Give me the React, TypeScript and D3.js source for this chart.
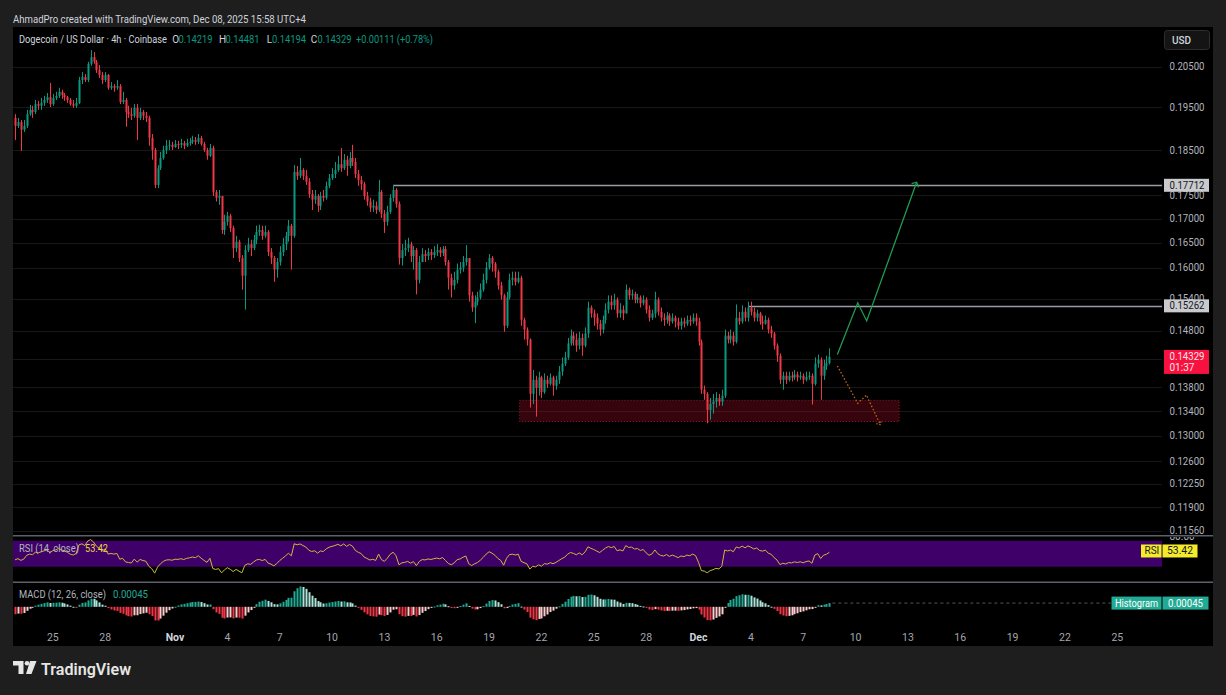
import { useEffect, useRef } from "react";
import * as d3 from "d3";

// closes of the bars before the first visible one (only used to warm up RSI / MACD)
const leadCloses = [
  0.2050, 0.2080, 0.2030, 0.1990, 0.2010, 0.2040,
  0.2020, 0.1990, 0.1960, 0.1940, 0.1950, 0.1920,
  0.1880, 0.1850, 0.1820, 0.1790, 0.1830, 0.1860,
  0.1880, 0.1900, 0.1890, 0.1910, 0.1920, 0.1900,
  0.1910, 0.1930, 0.1950, 0.1940, 0.1960, 0.1980,
  0.2000, 0.2010, 0.2030, 0.2000, 0.1990, 0.2020,
  0.2040, 0.2010, 0.1980, 0.2000, 0.1970, 0.1950,
  0.1930, 0.1910, 0.1940, 0.1920, 0.1925,
];

// 4h bars, first one Oct 22 20:00
const closes = [
  0.1906, 0.1915, 0.1897, 0.1906, 0.1934, 0.1944, 0.1939, 0.1958, 0.1954, 0.1961,
  0.1968, 0.1975, 0.1958, 0.1973, 0.1978, 0.1988, 0.1980, 0.1975, 0.1968, 0.1958,
  0.1954, 0.1961, 0.2017, 0.2025, 0.2017, 0.2058, 0.2075, 0.2063, 0.2042, 0.2030,
  0.2017, 0.2030, 0.1998, 0.2002, 0.1998, 0.2002, 0.1963, 0.1968, 0.1939, 0.1934,
  0.1930, 0.1949, 0.1925, 0.1939, 0.1930, 0.1925, 0.1878, 0.1850, 0.1772, 0.1809,
  0.1832, 0.1850, 0.1860, 0.1862, 0.1857, 0.1864, 0.1862, 0.1866, 0.1860, 0.1866,
  0.1869, 0.1873, 0.1869, 0.1878, 0.1864, 0.1850, 0.1837, 0.1855, 0.1757, 0.1744,
  0.1748, 0.1676, 0.1693, 0.1706, 0.1680, 0.1639, 0.1652, 0.1619, 0.1584, 0.1635,
  0.1647, 0.1639, 0.1656, 0.1672, 0.1676, 0.1664, 0.1672, 0.1631, 0.1619, 0.1596,
  0.1611, 0.1631, 0.1647, 0.1664, 0.1685, 0.1664, 0.1801, 0.1792, 0.1805, 0.1792,
  0.1779, 0.1752, 0.1740, 0.1748, 0.1727, 0.1748, 0.1744, 0.1770, 0.1787, 0.1796,
  0.1805, 0.1818, 0.1809, 0.1828, 0.1814, 0.1832, 0.1823, 0.1796, 0.1783, 0.1774,
  0.1748, 0.1736, 0.1723, 0.1727, 0.1718, 0.1757, 0.1710, 0.1693, 0.1714, 0.1744,
  0.1761, 0.1731, 0.1619, 0.1635, 0.1639, 0.1647, 0.1623, 0.1635, 0.1576, 0.1611,
  0.1627, 0.1623, 0.1631, 0.1625, 0.1631, 0.1635, 0.1629, 0.1637, 0.1611, 0.1580,
  0.1565, 0.1576, 0.1596, 0.1600, 0.1611, 0.1619, 0.1546, 0.1523, 0.1534, 0.1542,
  0.1557, 0.1576, 0.1600, 0.1619, 0.1608, 0.1592, 0.1565, 0.1546, 0.1489, 0.1542,
  0.1576, 0.1580, 0.1572, 0.1580, 0.1500, 0.1482, 0.1464, 0.1369, 0.1393, 0.1379,
  0.1397, 0.1372, 0.1393, 0.1386, 0.1397, 0.1383, 0.1393, 0.1407, 0.1421, 0.1432,
  0.1457, 0.1471, 0.1464, 0.1453, 0.1467, 0.1453, 0.1475, 0.1523, 0.1512, 0.1504,
  0.1493, 0.1482, 0.1500, 0.1519, 0.1534, 0.1527, 0.1538, 0.1512, 0.1519, 0.1512,
  0.1557, 0.1546, 0.1549, 0.1538, 0.1542, 0.1531, 0.1538, 0.1519, 0.1504, 0.1512,
  0.1538, 0.1515, 0.1504, 0.1500, 0.1508, 0.1497, 0.1504, 0.1497, 0.1489, 0.1497,
  0.1493, 0.1500, 0.1497, 0.1504, 0.1497, 0.1460, 0.1376, 0.1369, 0.1342, 0.1352,
  0.1356, 0.1362, 0.1356, 0.1366, 0.1471, 0.1464, 0.1471, 0.1460, 0.1504, 0.1497,
  0.1515, 0.1504, 0.1523, 0.1515, 0.1504, 0.1512, 0.1497, 0.1493, 0.1500, 0.1482,
  0.1475, 0.1453, 0.1435, 0.1393, 0.1400, 0.1393, 0.1400, 0.1397, 0.1402, 0.1397,
  0.1400, 0.1393, 0.1398, 0.1400, 0.1386, 0.1421, 0.1428, 0.1400, 0.1417, 0.14219,
  0.14329,
];

const highs = [
  0.1934, 0.1925, 0.1920, 0.1920, 0.1944, 0.1956, 0.1954, 0.1968, 0.1966, 0.1973,
  0.1978, 0.1985, 0.2010, 0.1983, 0.1988, 0.1998, 0.1993, 0.1985, 0.1978, 0.1973,
  0.1968, 0.1973, 0.2025, 0.2037, 0.2032, 0.2063, 0.2093, 0.2088, 0.2068, 0.2055,
  0.2037, 0.2037, 0.2032, 0.2012, 0.2007, 0.2017, 0.2007, 0.1988, 0.1973, 0.1954,
  0.1949, 0.1958, 0.1958, 0.1949, 0.1944, 0.1939, 0.1930, 0.1887, 0.1855, 0.1816,
  0.1846, 0.1860, 0.1873, 0.1873, 0.1869, 0.1873, 0.1871, 0.1876, 0.1871, 0.1876,
  0.1878, 0.1883, 0.1880, 0.1887, 0.1883, 0.1869, 0.1855, 0.1864, 0.1860, 0.1761,
  0.1761, 0.1748, 0.1708, 0.1714, 0.1710, 0.1685, 0.1664, 0.1656, 0.1625, 0.1645,
  0.1660, 0.1656, 0.1666, 0.1685, 0.1687, 0.1685, 0.1685, 0.1676, 0.1639, 0.1623,
  0.1619, 0.1643, 0.1660, 0.1672, 0.1697, 0.1689, 0.1816, 0.1814, 0.1832, 0.1809,
  0.1805, 0.1787, 0.1761, 0.1761, 0.1752, 0.1757, 0.1761, 0.1779, 0.1796, 0.1809,
  0.1823, 0.1837, 0.1855, 0.1841, 0.1837, 0.1846, 0.1862, 0.1832, 0.1805, 0.1792,
  0.1779, 0.1757, 0.1744, 0.1740, 0.1736, 0.1783, 0.1761, 0.1718, 0.1727, 0.1752,
  0.1772, 0.1765, 0.1736, 0.1647, 0.1656, 0.1660, 0.1652, 0.1643, 0.1639, 0.1623,
  0.1639, 0.1635, 0.1639, 0.1637, 0.1643, 0.1647, 0.1641, 0.1643, 0.1643, 0.1615,
  0.1588, 0.1592, 0.1608, 0.1611, 0.1623, 0.1645, 0.1619, 0.1553, 0.1546, 0.1553,
  0.1569, 0.1588, 0.1611, 0.1627, 0.1623, 0.1611, 0.1596, 0.1572, 0.1549, 0.1553,
  0.1588, 0.1592, 0.1592, 0.1592, 0.1584, 0.1504, 0.1486, 0.1466, 0.1410, 0.1400,
  0.1407, 0.1400, 0.1404, 0.1400, 0.1404, 0.1400, 0.1400, 0.1417, 0.1432, 0.1442,
  0.1467, 0.1482, 0.1478, 0.1475, 0.1478, 0.1475, 0.1486, 0.1534, 0.1527, 0.1519,
  0.1512, 0.1500, 0.1508, 0.1531, 0.1546, 0.1546, 0.1549, 0.1542, 0.1531, 0.1527,
  0.1567, 0.1561, 0.1557, 0.1553, 0.1549, 0.1546, 0.1546, 0.1542, 0.1527, 0.1519,
  0.1553, 0.1542, 0.1523, 0.1512, 0.1515, 0.1512, 0.1512, 0.1508, 0.1504, 0.1504,
  0.1504, 0.1508, 0.1508, 0.1512, 0.1512, 0.1504, 0.1464, 0.1383, 0.1372, 0.1362,
  0.1369, 0.1372, 0.1369, 0.1376, 0.1482, 0.1478, 0.1482, 0.1478, 0.1529, 0.1515,
  0.1527, 0.1523, 0.1534, 0.1534, 0.1523, 0.1519, 0.1515, 0.1508, 0.1508, 0.1504,
  0.1489, 0.1478, 0.1457, 0.1439, 0.1407, 0.1407, 0.1407, 0.1407, 0.1410, 0.1407,
  0.1407, 0.1404, 0.1407, 0.1407, 0.1404, 0.1432, 0.1437, 0.1432, 0.1428, 0.1435,
  0.14481,
];

const lows = [
  0.1873, 0.1901, 0.1848, 0.1892, 0.1901, 0.1930, 0.1925, 0.1934, 0.1944, 0.1944,
  0.1954, 0.1961, 0.1951, 0.1954, 0.1968, 0.1973, 0.1971, 0.1966, 0.1961, 0.1954,
  0.1949, 0.1949, 0.1958, 0.2007, 0.2012, 0.2012, 0.2053, 0.2058, 0.2035, 0.2022,
  0.2007, 0.2012, 0.1993, 0.1993, 0.1988, 0.1993, 0.1958, 0.1958, 0.1904, 0.1925,
  0.1920, 0.1925, 0.1873, 0.1920, 0.1920, 0.1915, 0.1860, 0.1828, 0.1765, 0.1765,
  0.1805, 0.1828, 0.1841, 0.1850, 0.1850, 0.1855, 0.1852, 0.1855, 0.1852, 0.1857,
  0.1860, 0.1864, 0.1862, 0.1864, 0.1860, 0.1846, 0.1828, 0.1834, 0.1748, 0.1736,
  0.1729, 0.1668, 0.1666, 0.1685, 0.1672, 0.1619, 0.1631, 0.1611, 0.1557, 0.1519,
  0.1631, 0.1623, 0.1635, 0.1647, 0.1664, 0.1656, 0.1660, 0.1623, 0.1607, 0.1572,
  0.1580, 0.1604, 0.1623, 0.1635, 0.1652, 0.1596, 0.1660, 0.1783, 0.1787, 0.1783,
  0.1772, 0.1744, 0.1718, 0.1731, 0.1714, 0.1718, 0.1736, 0.1740, 0.1765, 0.1783,
  0.1787, 0.1801, 0.1801, 0.1805, 0.1792, 0.1809, 0.1814, 0.1787, 0.1770, 0.1761,
  0.1740, 0.1727, 0.1714, 0.1714, 0.1710, 0.1714, 0.1701, 0.1670, 0.1685, 0.1710,
  0.1736, 0.1723, 0.1606, 0.1604, 0.1623, 0.1631, 0.1611, 0.1596, 0.1548, 0.1569,
  0.1611, 0.1611, 0.1615, 0.1615, 0.1619, 0.1623, 0.1621, 0.1623, 0.1604, 0.1557,
  0.1542, 0.1557, 0.1569, 0.1588, 0.1592, 0.1604, 0.1534, 0.1515, 0.1494, 0.1527,
  0.1538, 0.1553, 0.1569, 0.1596, 0.1592, 0.1580, 0.1557, 0.1538, 0.1478, 0.1485,
  0.1538, 0.1565, 0.1565, 0.1569, 0.1489, 0.1464, 0.1453, 0.1346, 0.1352, 0.1331,
  0.1366, 0.1362, 0.1369, 0.1379, 0.1383, 0.1366, 0.1376, 0.1386, 0.1400, 0.1417,
  0.1428, 0.1453, 0.1453, 0.1442, 0.1446, 0.1435, 0.1450, 0.1467, 0.1504, 0.1489,
  0.1482, 0.1471, 0.1475, 0.1493, 0.1512, 0.1519, 0.1519, 0.1504, 0.1504, 0.1500,
  0.1512, 0.1538, 0.1538, 0.1531, 0.1531, 0.1523, 0.1527, 0.1512, 0.1497, 0.1500,
  0.1504, 0.1508, 0.1497, 0.1489, 0.1493, 0.1489, 0.1493, 0.1486, 0.1482, 0.1482,
  0.1486, 0.1489, 0.1489, 0.1493, 0.1489, 0.1453, 0.1369, 0.1359, 0.1320, 0.1326,
  0.1336, 0.1346, 0.1349, 0.1349, 0.1362, 0.1457, 0.1457, 0.1453, 0.1457, 0.1491,
  0.1493, 0.1497, 0.1497, 0.1508, 0.1497, 0.1497, 0.1491, 0.1482, 0.1491, 0.1475,
  0.1467, 0.1446, 0.1424, 0.1386, 0.1376, 0.1386, 0.1390, 0.1390, 0.1393, 0.1390,
  0.1393, 0.1386, 0.1390, 0.1393, 0.1351, 0.1383, 0.1414, 0.1359, 0.1393, 0.1410,
  0.14194,
];

const priceTicks = [0.205, 0.195, 0.185, 0.175, 0.17, 0.165, 0.16, 0.154, 0.148, 0.143, 0.138, 0.134, 0.13, 0.126, 0.1225, 0.119, 0.1156];

// [month (0-based), day, label]
const dateTicks: [number, number, string][] = [
  [9, 25, "25"], [9, 28, "28"], [10, 1, "Nov"], [10, 4, "4"], [10, 7, "7"], [10, 10, "10"],
  [10, 13, "13"], [10, 16, "16"], [10, 19, "19"], [10, 22, "22"], [10, 25, "25"], [10, 28, "28"],
  [11, 1, "Dec"], [11, 4, "4"], [11, 7, "7"], [11, 10, "10"], [11, 13, "13"], [11, 16, "16"],
  [11, 19, "19"], [11, 22, "22"], [11, 25, "25"],
];

// horizontal levels: price, index of the bar where the line starts
const levels = [
  { price: 0.17712, bar: 130 },
  { price: 0.15262, bar: 252 },
];

const zoneTop = 0.1358;
const zoneBottom = 0.1323;
const zoneStart = Date.UTC(2025, 10, 20, 18);
const zoneEnd = Date.UTC(2025, 11, 12, 12);

const bullPath: [number, number][] = [
  [Date.UTC(2025, 11, 8, 23), 0.1437],
  [Date.UTC(2025, 11, 10, 3), 0.1532],
  [Date.UTC(2025, 11, 10, 15, 20), 0.1498],
  [Date.UTC(2025, 11, 13, 12), 0.1778],
];
const bearPath: [number, number][] = [
  [Date.UTC(2025, 11, 8, 23), 0.1417],
  [Date.UTC(2025, 11, 10, 3), 0.1353],
  [Date.UTC(2025, 11, 10, 15), 0.1367],
  [Date.UTC(2025, 11, 11, 10), 0.1318],
];

const lastPrice = "0.14329";
const countdown = "01:37";
const rsiValue = 53.42;
const histValue = "0.00045";

const firstBar = Date.UTC(2025, 9, 22, 20);
const barMs = 4 * 3600 * 1000;

export default function App() {
  const ref = useRef<SVGSVGElement>(null);

  useEffect(() => {
    const svg = d3.select(ref.current);
    svg.selectAll("*").remove();
    const font = "Roboto, 'Noto Sans', sans-serif";
    const up = "#089981";
    const down = "#f23645";

    // text helper, optional fixed width to match the screenshot's font metrics
    const txt = (g: any, tx: number, ty: number, s: string, fill: string, size = 10, len?: number) => {
      const t = g.append("text").attr("x", tx).attr("y", ty)
        .attr("font-family", font).attr("font-size", size).attr("fill", fill).text(s);
      if (len) t.attr("textLength", len).attr("lengthAdjust", "spacingAndGlyphs");
      return t;
    };

    svg.append("rect").attr("width", 1226).attr("height", 695).attr("fill", "#1e1e1e");
    svg.append("rect").attr("x", 13).attr("y", 27).attr("width", 1200).attr("height", 619).attr("fill", "#000");

    const x = d3.scaleUtc()
      .domain([new Date(Date.UTC(2025, 9, 22, 17, 11)), new Date(Date.UTC(2025, 11, 27, 13, 29))])
      .range([13, 1162]);
    const y = d3.scaleLog().domain([0.115, 0.2151]).range([535, 28]);

    const bars = closes.map((c, i) => {
      const o = i === 0 ? leadCloses[leadCloses.length - 1] : closes[i - 1];
      return {
        t: new Date(firstBar + i * barMs),
        o, c,
        h: Math.max(highs[i], o, c),
        l: Math.min(lows[i], o, c),
      };
    });

    const defs = svg.append("defs");
    defs.append("clipPath").attr("id", "main-clip")
      .append("rect").attr("x", 13).attr("y", 28).attr("width", 1149).attr("height", 507);
    defs.append("clipPath").attr("id", "rsi-clip")
      .append("rect").attr("x", 13).attr("y", 537).attr("width", 1200).attr("height", 45);

    // grid
    svg.append("g")
      .selectAll("line")
      .data(priceTicks)
      .join("line")
      .attr("x1", 13).attr("x2", 1162)
      .attr("y1", d => Math.round(y(d)) + 0.5).attr("y2", d => Math.round(y(d)) + 0.5)
      .attr("stroke", "#171717");

    const main = svg.append("g").attr("clip-path", "url(#main-clip)");

    // demand zone
    main.append("rect")
      .attr("x", x(new Date(zoneStart)))
      .attr("y", y(zoneTop))
      .attr("width", x(new Date(zoneEnd)) - x(new Date(zoneStart)))
      .attr("height", y(zoneBottom) - y(zoneTop))
      .attr("fill", "rgba(190,15,45,0.28)")
      .attr("stroke", "#8e1d2e")
      .attr("stroke-dasharray", "1,2");

    // levels
    levels.forEach(lv => {
      const yy = Math.round(y(lv.price)) + 0.5;
      main.append("line")
        .attr("x1", x(bars[lv.bar].t)).attr("x2", 1162)
        .attr("y1", yy).attr("y2", yy)
        .attr("stroke", "#9a9ca3").attr("stroke-width", 1.5);
    });

    // candles
    const cg = main.append("g");
    cg.selectAll("line")
      .data(bars)
      .join("line")
      .attr("x1", d => Math.round(x(d.t)) + 0.5)
      .attr("x2", d => Math.round(x(d.t)) + 0.5)
      .attr("y1", d => y(d.h))
      .attr("y2", d => y(d.l))
      .attr("stroke", d => (d.c >= d.o ? up : down))
      .attr("stroke-width", 1);
    cg.selectAll("rect")
      .data(bars)
      .join("rect")
      .attr("x", d => Math.round(x(d.t)) - 0.5)
      .attr("width", 2)
      .attr("y", d => y(Math.max(d.o, d.c)))
      .attr("height", d => Math.max(1, y(Math.min(d.o, d.c)) - y(Math.max(d.o, d.c))))
      .attr("fill", d => (d.c >= d.o ? up : down));

    // projections
    const pline = d3.line<[number, number]>()
      .x(d => x(new Date(d[0])))
      .y(d => y(d[1]));
    main.append("path")
      .attr("d", pline(bullPath))
      .attr("fill", "none")
      .attr("stroke", "#1f9b50")
      .attr("stroke-width", 1.3);
    const bEnd = bullPath[bullPath.length - 1];
    const bx = x(new Date(bEnd[0])), by = y(bEnd[1]);
    main.append("path")
      .attr("d", `M${bx - 5},${by + 1.5} L${bx},${by} L${bx + 2},${by + 5}`)
      .attr("fill", "none").attr("stroke", "#1f9b50").attr("stroke-width", 1.3);
    main.append("path")
      .attr("d", pline(bearPath))
      .attr("fill", "none")
      .attr("stroke", "#c0661a")
      .attr("stroke-width", 1.3)
      .attr("stroke-dasharray", "1.5,2");
    const rEnd = bearPath[bearPath.length - 1];
    const rx = x(new Date(rEnd[0])), ry = y(rEnd[1]);
    main.append("path")
      .attr("d", `M${rx - 4},${ry - 1} L${rx},${ry} L${rx + 1},${ry - 4}`)
      .attr("fill", "none").attr("stroke", "#c0661a").attr("stroke-width", 1.2)
      .attr("stroke-dasharray", "1.5,1.5");

    // price axis labels
    const pa = svg.append("g");
    priceTicks.forEach(p => txt(pa, 1169.5, y(p) + 3.5, p.toFixed(5), "#b2b5be", 10, 35));

    levels.forEach(lv => {
      const yy = y(lv.price);
      svg.append("rect").attr("x", 1164).attr("y", yy - 6.5).attr("width", 45).attr("height", 13)
        .attr("fill", "#c9cacd");
      txt(svg, 1169.5, yy + 3.5, lv.price.toFixed(5), "#131722", 10, 35);
    });

    const ly = y(+lastPrice);
    svg.append("rect").attr("x", 1164).attr("y", ly - 7).attr("width", 45).attr("height", 24)
      .attr("fill", "#f7113f");
    txt(svg, 1169.5, ly + 3.5, lastPrice, "#ffe5ea", 10, 35);
    txt(svg, 1169.5, ly + 14.5, countdown, "#ffe5ea", 10);

    // USD button
    svg.append("rect").attr("x", 1164.5).attr("y", 30.5).attr("width", 45).attr("height", 19).attr("rx", 3)
      .attr("fill", "#141414").attr("stroke", "#2e2e2e");
    txt(svg, 1172, 43.5, "USD", "#d1d4dc", 10).attr("font-weight", 500);

    // pane separators
    [535.7, 582.3].forEach(v => {
      svg.append("line").attr("x1", 13).attr("x2", 1213).attr("y1", v).attr("y2", v)
        .attr("stroke", "#5d606b").attr("stroke-width", 1.5);
    });

    // ---- indicators ----
    const all = leadCloses.concat(closes);
    const off = leadCloses.length;
    const rsi: number[] = new Array(all.length).fill(NaN);
    let ag = 0, al = 0;
    for (let i = 1; i <= 14; i++) {
      const d = all[i] - all[i - 1];
      if (d > 0) ag += d; else al -= d;
    }
    ag /= 14; al /= 14;
    rsi[14] = 100 - 100 / (1 + ag / al);
    for (let i = 15; i < all.length; i++) {
      const d = all[i] - all[i - 1];
      ag = (ag * 13 + Math.max(d, 0)) / 14;
      al = (al * 13 + Math.max(-d, 0)) / 14;
      rsi[i] = al === 0 ? 100 : 100 - 100 / (1 + ag / al);
    }
    const ema = (arr: number[], p: number) => {
      const k = 2 / (p + 1);
      let e = arr[0];
      return arr.map((v, i) => (e = i === 0 ? v : v * k + e * (1 - k)));
    };
    const e12 = ema(all, 12), e26 = ema(all, 26);
    const macd = all.map((_, i) => e12[i] - e26[i]);
    const sig = ema(macd, 9);
    const hist = macd.map((m, i) => m - sig[i]);

    // RSI pane
    const ry2 = d3.scaleLinear().domain([30, 70]).range([566.7, 540.7]);
    svg.append("rect").attr("x", 13).attr("y", 540.7).attr("width", 1149).attr("height", 26)
      .attr("fill", "#40006a");
    const rsiG = svg.append("g").attr("clip-path", "url(#rsi-clip)");
    txt(rsiG, 1169.5, 540, "80.00", "#b2b5be", 10);
    const rsiLine = d3.line<number>()
      .x((_, i) => x(bars[i].t))
      .y(d => ry2(d));
    rsiG.append("path")
      .attr("d", rsiLine(rsi.slice(off)))
      .attr("fill", "none").attr("stroke", "#cdb93a").attr("stroke-width", 1);
    txt(svg, 19, 551.5, "RSI (14, close)", "#b2b5be", 10.5, 60);
    txt(svg, 85, 551.5, rsiValue.toFixed(2), "#e6d83a", 10.5, 23);
    const rly = ry2(rsiValue);
    svg.append("rect").attr("x", 1141).attr("y", rly - 7).attr("width", 20.5).attr("height", 13)
      .attr("fill", "#f5eb2d");
    svg.append("rect").attr("x", 1162.5).attr("y", rly - 7).attr("width", 35).attr("height", 13)
      .attr("fill", "#f5eb2d");
    txt(svg, 1144.5, rly + 3, "RSI", "#131722", 10);
    txt(svg, 1167, rly + 3, rsiValue.toFixed(2), "#131722", 10, 26);

    // MACD pane
    const hv = hist.slice(off);
    const hy = d3.scaleLinear().domain(d3.extent(hv) as [number, number]).range([620.5, 586.5]);
    const mg = svg.append("g");
    hv.forEach((h, i) => {
      const prev = i === 0 ? hist[off - 1] : hv[i - 1];
      const col = h >= 0 ? (h >= prev ? "#22ab94" : "#ace5dc") : (h < prev ? "#f23645" : "#fccbcd");
      const y0 = hy(0), y1 = hy(h);
      mg.append("rect")
        .attr("x", Math.round(x(bars[i].t)) - 0.5)
        .attr("width", 2)
        .attr("y", Math.min(y0, y1))
        .attr("height", Math.max(1, Math.abs(y1 - y0)))
        .attr("fill", col);
    });
    const hLast = hy(hv[hv.length - 1]);
    svg.append("line").attr("x1", x(bars[bars.length - 1].t) + 3).attr("x2", 1111)
      .attr("y1", hLast).attr("y2", hLast)
      .attr("stroke", "#555").attr("stroke-dasharray", "3,3");
    svg.append("rect").attr("x", 1111.5).attr("y", hLast - 6.5).attr("width", 50).attr("height", 13)
      .attr("fill", "#22ab94");
    svg.append("rect").attr("x", 1162.5).attr("y", hLast - 6.5).attr("width", 46).attr("height", 13)
      .attr("fill", "#22ab94");
    txt(svg, 1115, hLast + 3.5, "Histogram", "#fff", 10, 43);
    txt(svg, 1168, hLast + 3.5, histValue, "#fff", 10, 35);
    txt(svg, 19, 598, "MACD (12, 26, close)", "#b2b5be", 10.5, 87);
    txt(svg, 113, 598, histValue, "#22ab94", 10.5, 35);

    // time axis
    svg.append("g")
      .selectAll("text")
      .data(dateTicks)
      .join("text")
      .attr("x", d => x(new Date(Date.UTC(2025, d[0], d[1]))))
      .attr("y", 640.5)
      .attr("text-anchor", "middle")
      .attr("font-family", font)
      .attr("font-size", 10.5)
      .attr("font-weight", d => (d[2] === "Nov" || d[2] === "Dec" ? 700 : 400))
      .attr("fill", d => (d[2] === "Nov" || d[2] === "Dec" ? "#d1d4dc" : "#a3a6af"))
      .text(d => d[2]);

    // header
    txt(svg, 13, 22.5, "AhmadPro created with TradingView.com, Dec 08, 2025 15:58 UTC+4", "#d1d4dc", 10.5, 293);
    txt(svg, 19, 43, "Dogecoin / US Dollar · 4h · Coinbase", "#d1d4dc", 10, 148);
    txt(svg, 172.3, 43, "O", "#d1d4dc", 10); txt(svg, 178.5, 43, "0.14219", up, 10, 34);
    txt(svg, 219, 43, "H", "#d1d4dc", 10); txt(svg, 225.5, 43, "0.14481", up, 10, 34);
    txt(svg, 266.7, 43, "L", "#d1d4dc", 10); txt(svg, 272, 43, "0.14194", up, 10, 34);
    txt(svg, 310.7, 43, "C", "#d1d4dc", 10); txt(svg, 317.5, 43, "0.14329", up, 10, 34);
    txt(svg, 356, 43, "+0.00111 (+0.78%)", up, 10, 77);

    // logo
    const lg = svg.append("g").attr("fill", "#e6e6e6");
    lg.append("path").attr("d", "M13,661 L23.5,661 L23.5,674 L18.5,674 L18.5,665.5 L13,665.5 Z");
    lg.append("circle").attr("cx", 27).attr("cy", 663.3).attr("r", 2.3);
    lg.append("path").attr("d", "M30,661 L36.5,661 L31.5,674 L26,674 Z");
    txt(svg, 41, 674.5, "TradingView", "#e6e6e6", 17, 90).attr("font-weight", 600);
  }, []);

  return (
    <svg
      ref={ref}
      width={1226}
      height={695}
      style={{ position: "absolute", left: 0, top: 0, display: "block" }}
    />
  );
}
